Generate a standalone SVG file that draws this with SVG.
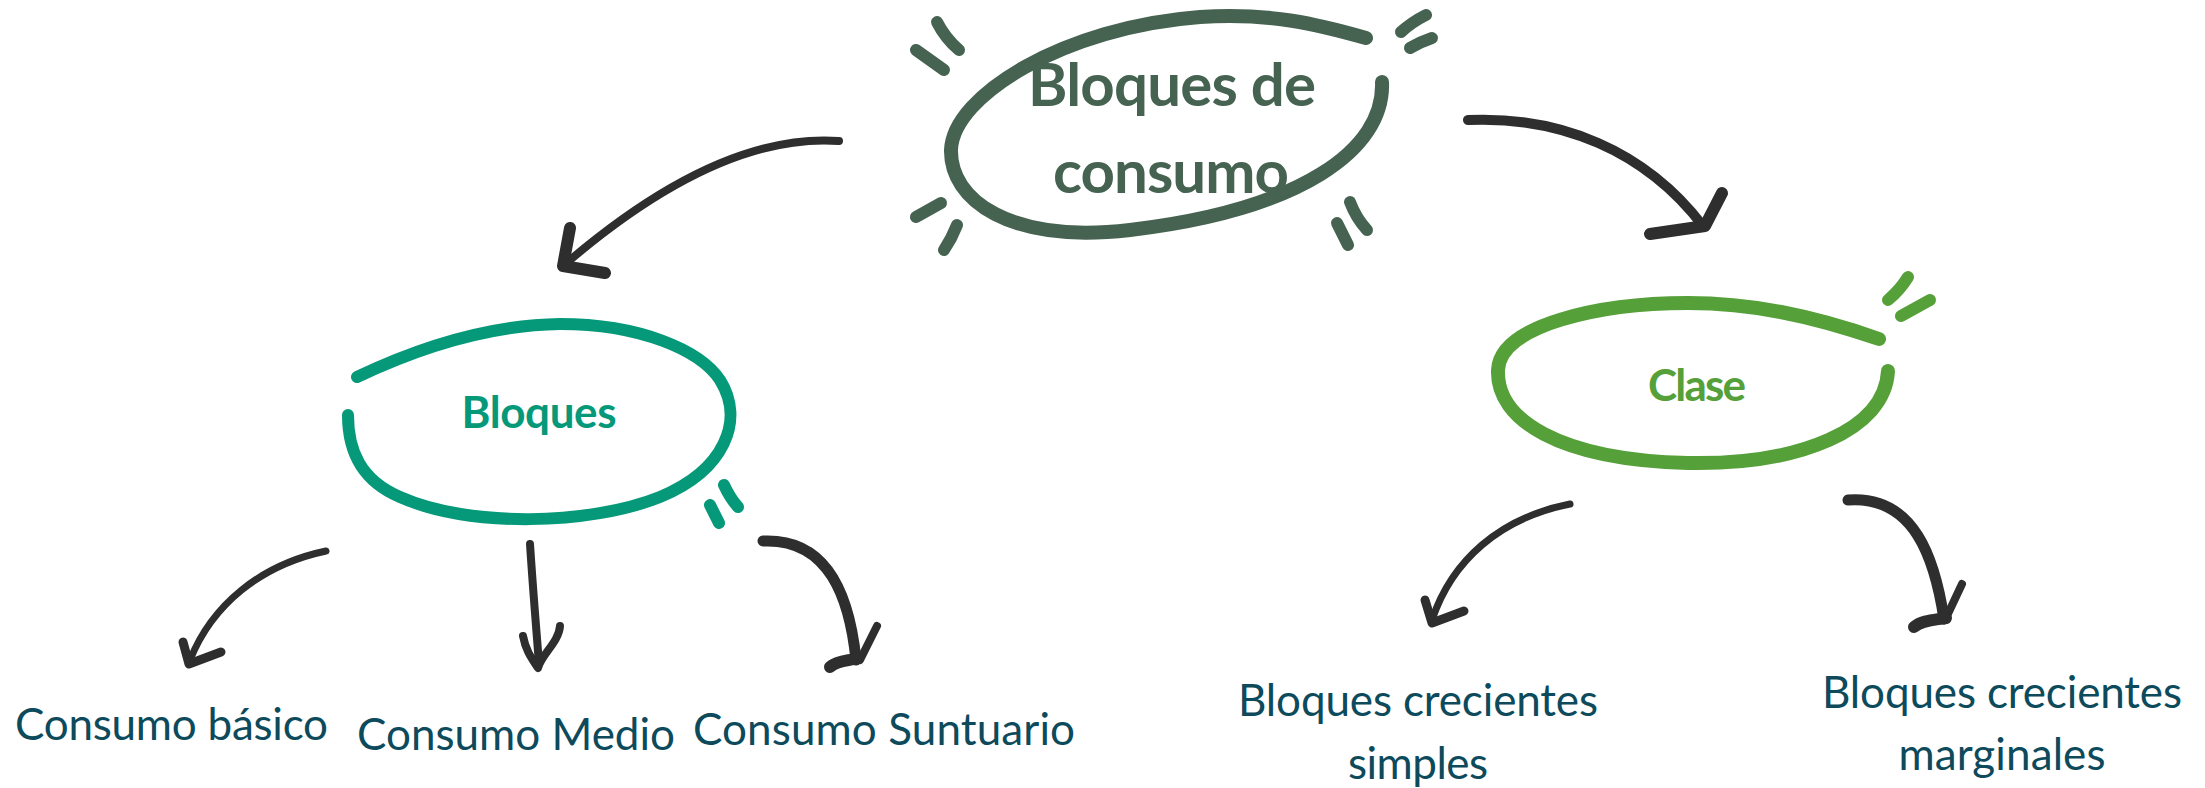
<svg xmlns="http://www.w3.org/2000/svg" width="2205" height="788" viewBox="0 0 2205 788">
<style>
.ring{fill:none;stroke-linecap:round;stroke-linejoin:round}
.dk{stroke:#466352;stroke-width:14}
.tk{stroke-width:12;stroke-linecap:round;fill:none}
.teal{stroke:#05997A}
.grn{stroke:#56A03A}
.arr{fill:none;stroke:#2E2E2E;stroke-linecap:round;stroke-linejoin:round}
.title{font-family:Lato,Carlito,"Open Sans","Liberation Sans",sans-serif;font-weight:bold;text-anchor:middle}
.lbl{font-family:Lato,Carlito,"Open Sans","Liberation Sans",sans-serif;font-size:44px;fill:#0D4A5B}
</style>
<rect width="2205" height="788" fill="#FFFFFF"/>
<g id="node-bloques-de-consumo">
<path class="ring dk" d="M 1382,82 C 1385,150 1300,210 1130,230 C 1010,244 950,200 951,150 C 953,95 1065,27 1200,17 C 1270,12 1320,25 1366,38"/>
<g stroke="#466352" class="tk">
<path d="M 937,22 Q 945,38 959,50"/>
<path d="M 916,50 L 944,70"/>
<path d="M 1401,32 Q 1412,22 1426,15"/>
<path d="M 1410,48 Q 1420,42 1432,38"/>
<path d="M 916,217 L 941,203"/>
<path d="M 944,250 Q 952,238 957,225"/>
<path d="M 1350,202 Q 1356,218 1367,230"/>
<path d="M 1337,223 L 1348,245"/>
</g>
<text class="title" x="1172" y="106" font-size="60" fill="#466352" textLength="288">Bloques de</text>
<text class="title" x="1171" y="193" font-size="60" fill="#466352" textLength="236">consumo</text>
</g>
<g id="node-bloques">
<path class="ring teal" stroke-width="12" d="M 357,377 C 420,347 490,325 560,324 C 640,324 700,350 720,380 C 745,420 725,470 660,497 C 590,525 470,528 400,497 C 360,480 348,450 348,415"/>
<path class="tk teal" stroke-width="8" d="M 710,505 L 719,523 M 724,485 Q 730,498 738,507"/>
<text class="title" x="539" y="428" font-size="44" fill="#05997A" textLength="155">Bloques</text>
</g>
<g id="node-clase">
<path class="ring grn" stroke-width="14" d="M 1879,339 C 1810,315 1750,303 1688,303 C 1600,303 1500,325 1498,370 C 1496,420 1560,460 1688,463 C 1800,465 1885,430 1888,371"/>
<path class="tk grn" stroke-width="10" d="M 1888,300 Q 1900,290 1908,277 M 1901,316 L 1930,300"/>
<text class="title" x="1697" y="401" font-size="44" fill="#56A03A" textLength="98">Clase</text>
</g>
<g id="node-consumo-basico"><text class="lbl" x="15" y="740" textLength="313">Consumo básico</text></g>
<g id="node-consumo-medio"><text class="lbl" x="357" y="750" textLength="318">Consumo Medio</text></g>
<g id="node-consumo-suntuario"><text class="lbl" x="693" y="745" textLength="382">Consumo Suntuario</text></g>
<g id="node-simples"><text class="lbl" x="1418" y="716" text-anchor="middle" textLength="360">Bloques crecientes</text><text class="lbl" x="1418" y="779" text-anchor="middle" textLength="140">simples</text></g>
<g id="node-marginales"><text class="lbl" x="2002" y="708" text-anchor="middle" textLength="360">Bloques crecientes</text><text class="lbl" x="2002" y="770" text-anchor="middle" textLength="207">marginales</text></g>
<g id="connectors">
<path class="arr" stroke-width="8" d="M 839,141 C 770,136 680,165 563,266"/>
<path class="arr" stroke-width="12" d="M 570,228 L 563,266 L 605,273"/>
<path class="arr" stroke-width="10" d="M 1468,120 C 1560,116 1645,150 1703,226"/>
<path class="arr" stroke-width="12" d="M 1722,193 L 1705,226 L 1650,234"/>
<path class="arr" stroke-width="7" d="M 326,551 C 260,565 212,605 190,660"/>
<path class="arr" stroke-width="9" d="M 183,642 L 189,664 L 221,652"/>
<path class="arr" stroke-width="8" d="M 530,544 C 533,590 536,625 539,664"/>
<path class="arr" stroke-width="8" d="M 523,636 C 526,652 533,660 538,668 C 541,655 559,642 560,626"/>
<path class="arr" stroke-width="11" d="M 763,541 C 830,538 850,600 856,660"/>
<path class="arr" stroke-width="8" d="M 877,626 L 860,660"/>
<path class="arr" stroke-width="12" d="M 830,667 C 838,660 850,661 858,658"/>
<path class="arr" stroke-width="7" d="M 1570,504 C 1500,518 1452,560 1432,620"/>
<path class="arr" stroke-width="9" d="M 1425,600 L 1432,623 L 1464,611"/>
<path class="arr" stroke-width="11" d="M 1848,500 C 1915,495 1935,560 1944,619"/>
<path class="arr" stroke-width="8" d="M 1962,584 L 1946,618"/>
<path class="arr" stroke-width="12" d="M 1914,627 C 1922,620 1935,620 1946,618"/>
</g>
</svg>
